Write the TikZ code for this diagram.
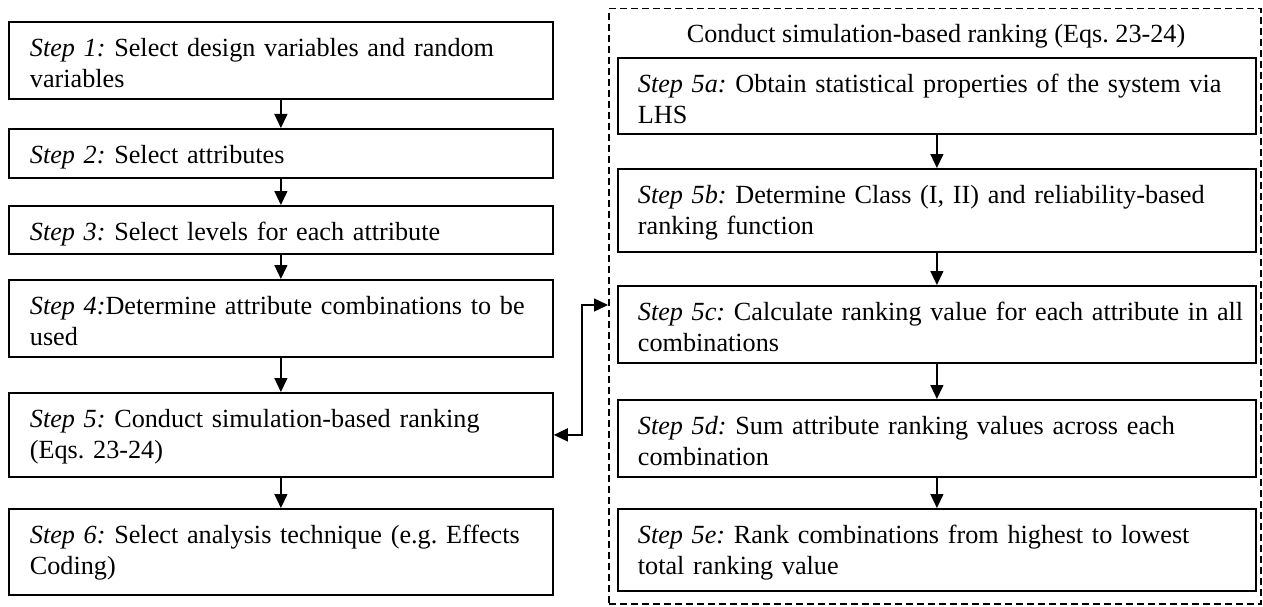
\documentclass[tikz,border=0pt]{standalone}
\usepackage{fontspec}
\setmainfont{Liberation Serif}
\usetikzlibrary{arrows.meta}
\frenchspacing
\begin{document}
\begin{tikzpicture}[x=1pt,y=-1pt,
  stepbox/.style={draw, line width=1.8pt, rectangle, anchor=north west, inner xsep=21pt, inner ysep=0pt,
    text height=34.5pt, align=left, font=\fontsize{26.2}{31}\selectfont},
  leftbox/.style={stepbox, text width=502pt},
  rightbox/.style={stepbox, inner xsep=20pt, text width=598pt},
  conn/.style={line width=1.4pt, -{Triangle[length=14pt,width=13pt]}},
  both/.style={line width=1.4pt, {Triangle[length=14pt,width=13pt]}-{Triangle[length=14pt,width=13pt]}},
  groupbox/.style={draw, line width=1.5pt, dash pattern=on 7pt off 4pt, rectangle, inner sep=0pt, anchor=north west},
  title/.style={anchor=base, inner sep=0pt, font=\fontsize{26.2}{31}\selectfont}
  ]
\useasboundingbox (0,0) rectangle (1263,607);

% left column
\node[leftbox, text depth=42.5pt] (b1) at (8,21) {\mbox{\textit{Step 1:} Select design variables and random}\\variables};
\node[leftbox, text depth=14.5pt] (b2) at (8,128) {\mbox{\textit{Step 2:} Select attributes}};
\node[leftbox, text depth=13.5pt] (b3) at (8,205) {\mbox{\textit{Step 3:} Select levels for each attribute}};
\node[leftbox, text depth=42.5pt] (b4) at (8,279) {\mbox{\textit{Step 4:}Determine attribute combinations to be}\\used};
\node[leftbox, text depth=49.5pt] (b5) at (8,392) {\mbox{\textit{Step 5:} Conduct simulation-based ranking}\\(Eqs. 23-24)};
\node[leftbox, text depth=51.5pt] (b6) at (8,508) {\mbox{\textit{Step 6:} Select analysis technique (e.g. Effects}\\Coding)};

\draw[conn] (b1.south) -- (b2.north);
\draw[conn] (b2.south) -- (b3.north);
\draw[conn] (b3.south) -- (b4.north);
\draw[conn] (b4.south) -- (b5.north);
\draw[conn] (b5.south) -- (b6.north);

% right group
\node[groupbox, minimum width=652pt, minimum height=595pt] (grp) at (608,8) {};
\node[title] (ttl) at (936,43) {Conduct simulation-based ranking (Eqs. 23-24)};

\node[rightbox, text depth=41.5pt] (s5a) at (617,57) {\mbox{\textit{Step 5a:} Obtain statistical properties of the system via}\\LHS};
\node[rightbox, text depth=48.5pt] (s5b) at (617,168) {\mbox{\textit{Step 5b:} Determine Class (I, II) and reliability-based}\\ranking function};
\node[rightbox, text depth=42.5pt] (s5c) at (617,285) {\mbox{\textit{Step 5c:} Calculate ranking value for each attribute in all}\\combinations};
\node[rightbox, text depth=42.5pt] (s5d) at (617,399) {\mbox{\textit{Step 5d:} Sum attribute ranking values across each}\\combination};
\node[rightbox, text depth=47.5pt] (s5e) at (617,508) {\mbox{\textit{Step 5e:} Rank combinations from highest to lowest}\\total ranking value};

\draw[conn] (s5a.south) -- (s5b.north);
\draw[conn] (s5b.south) -- (s5c.north);
\draw[conn] (s5c.south) -- (s5d.north);
\draw[conn] (s5d.south) -- (s5e.north);

\coordinate (dashin) at (grp.west |- 0,305);
\draw[both] (b5.east) -- ++(28,0) |- (dashin);
\end{tikzpicture}
\end{document}
